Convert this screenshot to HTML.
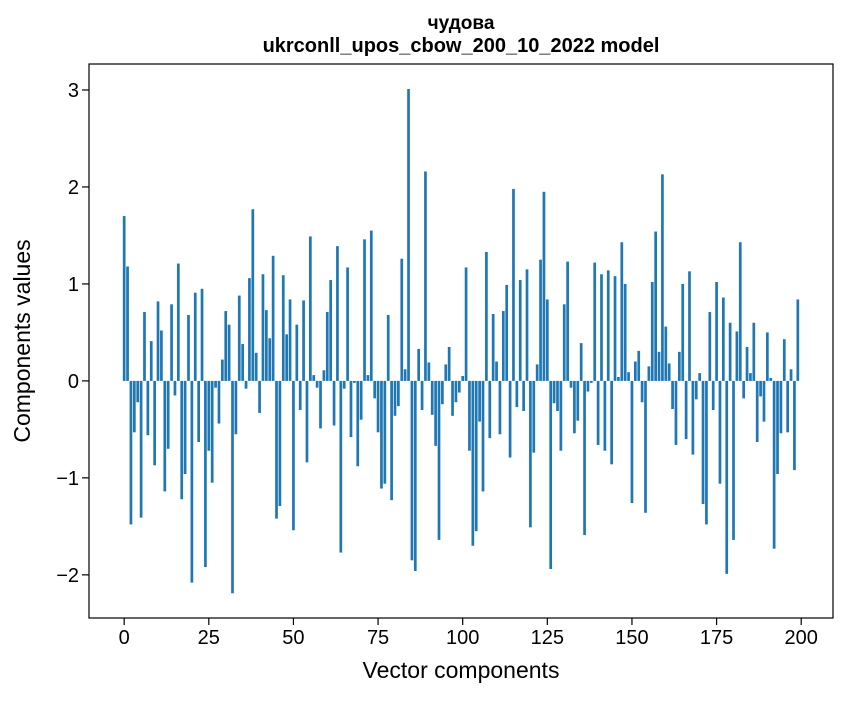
<!DOCTYPE html>
<html><head><meta charset="utf-8"><style>
body{margin:0;background:#fff;}
svg text{font-family:"Liberation Sans",sans-serif;fill:#000;}
</style></head><body>
<svg id="chart" width="847" height="696" xmlns="http://www.w3.org/2000/svg">
<rect width="847" height="696" fill="#fff"/>
<text x="461" y="29" text-anchor="middle" font-size="19" font-weight="bold">чудова</text>
<text x="461" y="52" text-anchor="middle" font-size="20" font-weight="bold">ukrconll_upos_cbow_200_10_2022 model</text>
<g id="bars"></g>
<g id="axes"></g>
<text x="461" y="678" text-anchor="middle" font-size="23">Vector components</text>
<text transform="translate(30,341) rotate(-90)" text-anchor="middle" font-size="23">Components values</text>
</svg>
<script>
const values=[1.70,1.18,-1.48,-0.53,-0.22,-1.41,0.71,-0.56,0.41,-0.87,0.82,0.52,-1.14,-0.70,0.79,-0.15,1.21,-1.22,-0.96,0.68,-2.08,0.91,-0.63,0.95,-1.92,-0.72,-1.05,-0.07,-0.44,0.22,0.72,0.58,-2.19,-0.55,0.88,0.38,-0.08,1.06,1.77,0.29,-0.33,1.10,0.73,0.44,1.29,-1.42,-1.29,1.09,0.48,0.84,
-1.54,0.58,-0.30,0.83,-0.84,1.49,0.06,-0.07,-0.49,0.11,0.71,1.04,-0.46,1.39,-1.77,-0.08,1.17,-0.58,-0.02,-0.88,-0.40,1.46,0.06,1.55,-0.18,-0.53,-1.11,-1.06,0.68,-1.23,-0.36,-0.26,1.26,0.12,3.01,-1.85,-1.96,0.33,-0.30,2.16,0.19,-0.35,-0.67,-1.64,-0.24,0.17,0.35,-0.36,-0.22,-0.12,
0.05,1.17,-0.72,-1.70,-1.55,-0.42,-1.14,1.33,-0.59,0.69,0.20,-0.55,0.72,0.99,-0.79,1.98,-0.27,1.04,-0.31,1.15,-1.51,-0.74,0.17,1.25,1.95,0.84,-1.94,-0.23,-0.31,-0.72,0.79,1.23,-0.07,-0.54,-0.41,0.39,-1.59,-0.11,-0.02,1.22,-0.66,1.10,-0.72,1.14,-0.86,1.08,0.04,1.43,1.00,0.09,
-1.26,0.20,0.31,-0.22,-1.36,0.15,1.02,1.54,0.30,2.13,0.56,0.18,-0.29,-0.66,0.30,1.00,-0.60,1.13,-0.76,-0.19,0.08,-1.27,-1.48,0.71,-0.30,1.02,-1.06,0.86,-1.99,0.60,-1.64,0.51,1.43,-0.18,0.35,0.08,0.60,-0.63,-0.16,-0.42,0.50,0.03,-1.73,-0.96,-0.54,0.43,-0.53,0.12,-0.92,0.84];
const xTicks=[0,25,50,75,100,125,150,175,200];
const yTicks=[-2,-1,0,1,2,3];
const L=89,R=833,T=64,B=618;
const xmin=-10.39,xmax=209.39,ymin=-2.445,ymax=3.268;
const X=v=>L+(v-xmin)/(xmax-xmin)*(R-L);
const Y=v=>B-(v-ymin)/(ymax-ymin)*(B-T);
const NS="http://www.w3.org/2000/svg";
const bars=document.getElementById('bars'),axes=document.getElementById('axes');
values.forEach((v,i)=>{
 const r=document.createElementNS(NS,'rect');
 
 
 const x0=X(i-0.4),x1=X(i+0.4),y0=Y(Math.max(v,0)),y1=Y(Math.min(v,0));
 r.setAttribute('x',x0);r.setAttribute('width',x1-x0);
 r.setAttribute('y',y0);r.setAttribute('height',Math.max(y1-y0,0.5));
 r.setAttribute('fill','#1f77b4');
 bars.appendChild(r);
});
const frame=document.createElementNS(NS,'rect');


frame.setAttribute('x',L);frame.setAttribute('y',T);frame.setAttribute('width',R-L);frame.setAttribute('height',B-T);
frame.setAttribute('fill','none');frame.setAttribute('stroke','#000');frame.setAttribute('stroke-width','1.2');
axes.appendChild(frame);
xTicks.forEach(t=>{
 const l=document.createElementNS(NS,'line');
 
 
 l.setAttribute('x1',X(t));l.setAttribute('x2',X(t));l.setAttribute('y1',B);l.setAttribute('y2',B+7);l.setAttribute('stroke','#000');l.setAttribute('stroke-width','1.2');
 axes.appendChild(l);
 const s=document.createElementNS(NS,'text');
 
 
 s.setAttribute('x',X(t));s.setAttribute('y',B+26);s.setAttribute('text-anchor','middle');s.setAttribute('font-size','20');
 s.textContent=t;axes.appendChild(s);
});
yTicks.forEach(t=>{
 const l=document.createElementNS(NS,'line');
 
 
 l.setAttribute('x1',L-7);l.setAttribute('x2',L);l.setAttribute('y1',Y(t));l.setAttribute('y2',Y(t));l.setAttribute('stroke','#000');l.setAttribute('stroke-width','1.2');
 axes.appendChild(l);
 const s=document.createElementNS(NS,'text');
 
 
 s.setAttribute('x',L-10);s.setAttribute('y',Y(t)+7);s.setAttribute('text-anchor','end');s.setAttribute('font-size','20');
 s.textContent=t<0?'\u2212'+Math.abs(t):t;axes.appendChild(s);
});
</script>
</body></html>
